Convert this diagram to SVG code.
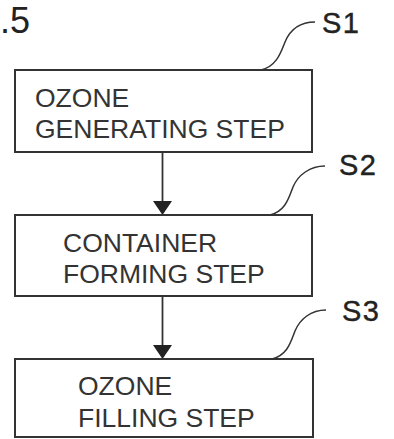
<svg xmlns="http://www.w3.org/2000/svg" width="394" height="439" viewBox="0 0 394 439">
<defs>
<style>
.box{fill:#fff;stroke:#333;stroke-width:2}
.t{font-family:"Liberation Sans",Arial,sans-serif;font-size:26.5px;fill:#333}
.lbl{font-family:"Liberation Sans",Arial,sans-serif;font-size:29px;fill:#222;letter-spacing:1.5px;stroke:#222;stroke-width:0.4}
.lead{fill:none;stroke:#333;stroke-width:1.5}
.conn{stroke:#333;stroke-width:1.8;fill:none}
.ah{fill:#222}
</style>
</defs>
<rect width="394" height="439" fill="#fff"/>
<text x="0" y="33" style="font-family:'Liberation Sans',Arial,sans-serif;font-size:36px;fill:#222">.5</text>
<g id="connectors">
<path class="conn" d="M162.5,153 V202"/>
<path class="ah" d="M153,201 L172,201 L162.5,215 Z"/>
<path class="conn" d="M162.5,297 V346"/>
<path class="ah" d="M153,345 L172,345 L162.5,359 Z"/>
</g>
<g id="S1">
<rect class="box" x="15" y="70" width="297" height="82"/>
<text class="t" x="35" y="107">OZONE</text>
<text class="t" x="35" y="138">GENERATING STEP</text>
<path class="lead" d="M261,70 C277,66 281,52 285,42 C290,30 300,22 315,22"/>
<text class="lbl" x="322" y="33">S1</text>
</g>
<g id="S2">
<rect class="box" x="15" y="215" width="297" height="81"/>
<text class="t" x="63" y="252">CONTAINER</text>
<text class="t" x="63" y="283">FORMING STEP</text>
<path class="lead" d="M270,215 C286,211 289,197 293,187 C298,175 310,166 325,166"/>
<text class="lbl" x="339" y="175">S2</text>
</g>
<g id="S3">
<rect class="box" x="15" y="359" width="298" height="78"/>
<text class="t" x="78" y="395">OZONE</text>
<text class="t" x="78" y="427">FILLING STEP</text>
<path class="lead" d="M272,359 C288,355 291,341 295,331 C300,319 311,310 326,310"/>
<text class="lbl" x="342" y="321">S3</text>
</g>
</svg>
